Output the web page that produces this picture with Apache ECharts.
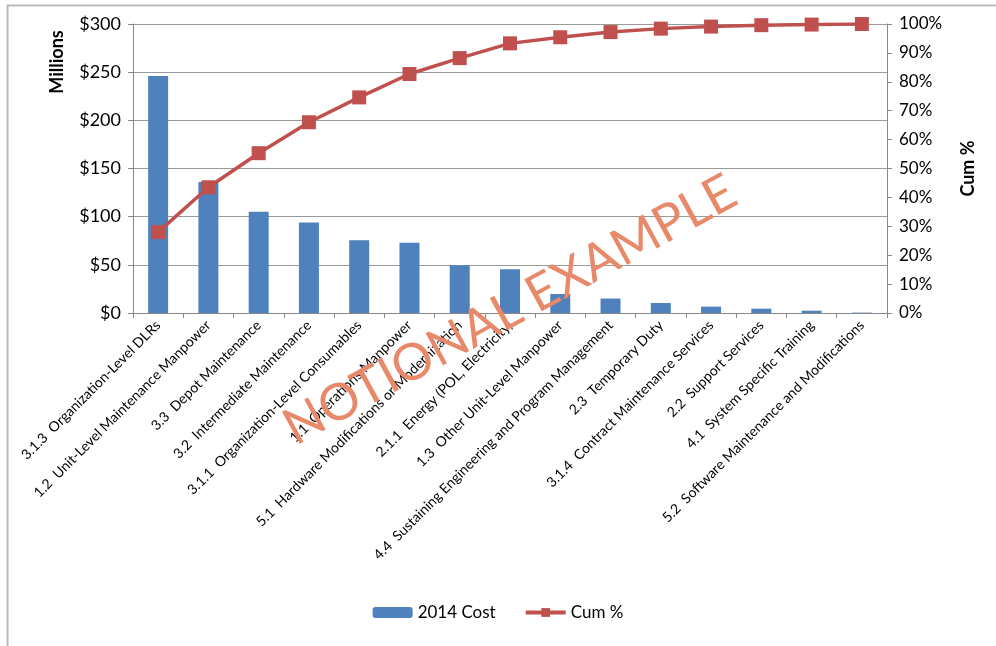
<!DOCTYPE html>
<html>
<head>
<meta charset="utf-8">
<script src="https://cdn.jsdelivr.net/npm/echarts@6/dist/echarts.min.js"></script>
<style>
html,body{margin:0;padding:0;background:#fff;}
#main{width:996px;height:646px;}
</style>
</head>
<body>
<div id="main"></div>
<script>
var categories = [
	'3.1.3  Organization-Level DLRs',
	'1.2  Unit-Level Maintenance Manpower',
	'3.3  Depot Maintenance',
	'3.2  Intermediate Maintenance',
	'3.1.1  Organization-Level Consumables',
	'1.1  Operations Manpower',
	'5.1  Hardware Modifications or Modernization',
	'2.1.1  Energy (POL, Electricity)',
	'1.3  Other Unit-Level Manpower',
	'4.4  Sustaining Engineering and Program Management',
	'2.3  Temporary Duty',
	'3.1.4  Contract Maintenance Services',
	'2.2  Support Services',
	'4.1  System Specific Training',
	'5.2  Software Maintenance and Modifications'
];
// 2014 cost, $ millions
var cost2014 = [246, 136, 105, 94, 75.5, 73, 49.5, 45.4, 19.7, 15, 10.4, 6.6, 4.5, 2.4, 0.4];
// cumulative percent
var cumPct = [28, 43.5, 55.3, 66, 74.6, 82.7, 88.2, 93.3, 95.4, 97.2, 98.4, 99.1, 99.6, 99.8, 100];
var costTicks = [0, 50, 100, 150, 200, 250, 300];

var font = 'Lato';
var chart = echarts.init(document.getElementById('main'));
var option = {
	backgroundColor: '#fff',
	animation: false,
	textStyle: {fontFamily: font},
	grid: {left: 133, right: 109, top: 24, bottom: 333},
	legend: {
		bottom: 20,
		left: 'center',
		itemWidth: 40,
		itemHeight: 11,
		itemGap: 28,
		textStyle: {fontSize: 17, color: '#000', fontFamily: font},
		data: ['2014 Cost', {name: 'Cum %', itemStyle: {color: '#C0504D'}, lineStyle: {width: 4, color: '#C0504D'}}]
	},
	xAxis: {
		type: 'category',
		data: categories,
		axisLine: {lineStyle: {color: '#888'}},
		axisTick: {show: true, length: 5, lineStyle: {color: '#888'}},
		axisLabel: {
			interval: 0,
			rotate: 45,
			fontSize: 14,
			color: '#000',
			margin: 10,
			fontFamily: font
		}
	},
	yAxis: [
		{
			type: 'value',
			min: costTicks[0],
			max: costTicks[costTicks.length - 1],
			interval: 50,
			axisLine: {show: true, lineStyle: {color: '#888'}},
			axisTick: {show: true, length: 5, lineStyle: {color: '#888'}},
			splitLine: {lineStyle: {color: '#999'}},
			axisLabel: {
				fontSize: 18,
				color: '#000',
				margin: 12,
				formatter: function (v) { return '$' + v; }
			}
		},
		{
			type: 'value',
			min: 0,
			max: 100,
			interval: 10,
			name: 'Cum %',
			nameLocation: 'middle',
			nameRotate: 90,
			nameGap: 72,
			nameTextStyle: {fontSize: 18, fontWeight: 'bold', color: '#000'},
			axisLine: {show: true, lineStyle: {color: '#888'}},
			axisTick: {show: true, length: 5, lineStyle: {color: '#888'}},
			splitLine: {show: false},
			axisLabel: {
				fontSize: 17,
				color: '#000',
				margin: 12,
				formatter: '{value}%'
			}
		}
	],
	series: [
		{
			name: '2014 Cost',
			type: 'bar',
			data: cost2014,
			barWidth: 20,
			itemStyle: {color: '#4F81BD'}
		},
		{
			name: 'Cum %',
			type: 'line',
			yAxisIndex: 1,
			data: cumPct,
			symbol: 'rect',
			symbolSize: 14,
			lineStyle: {color: '#C0504D', width: 3.5},
			itemStyle: {color: '#C0504D'},
			z: 5
		}
	],
	graphic: [
		{
			type: 'rect',
			left: 5, top: 3,
			shape: {width: 1000, height: 642},
			style: {fill: 'none', stroke: '#bbb', lineWidth: 2},
			silent: true
		},
		{
			type: 'text',
			x: 57, y: 62,
			rotation: Math.PI / 2,
			style: {text: 'Millions', font: 'bold 18px ' + font, fill: '#000', align: 'center', verticalAlign: 'middle'}
		},
		{
			type: 'text',
			x: 510, y: 310,
			rotation: 0.5,
			z: 100,
			style: {text: 'NOTIONAL EXAMPLE', font: 'normal 51px ' + font, fill: '#E8896A', align: 'center', verticalAlign: 'middle'}
		}
	]
};
chart.setOption(option);
</script>
</body>
</html>
